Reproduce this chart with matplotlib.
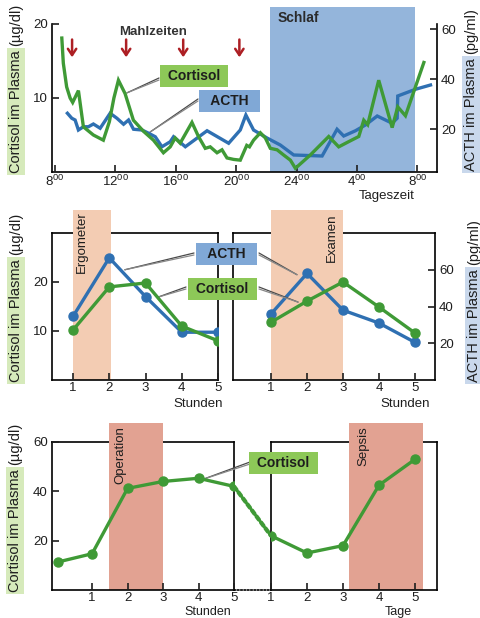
import matplotlib.pyplot as plt
import matplotlib.transforms as mtransforms
from matplotlib.patches import Rectangle, ConnectionPatch

plt.rcParams['font.family'] = ['Liberation Sans', 'DejaVu Sans']

W, H = 481, 618

# --- Tagesprofil (oben) ---
cort_h = [8.45, 8.55, 8.77, 9.0, 9.17, 9.55, 9.88, 10.54, 11.2, 11.6, 11.9, 12.2, 12.64,
          13.19, 13.86, 14.52, 15.18, 15.63, 15.96, 16.29, 17.07, 17.5, 17.95, 18.28,
          18.73, 19.06, 19.39, 19.83, 20.27, 20.7, 20.88, 21.15, 21.6, 21.93, 22.26,
          22.71, 23.14, 23.59, 23.92, 24.91, 26.13, 26.79, 27.45, 28.12, 28.45, 28.71,
          29.44, 30.33, 30.7, 31.21, 32.43]
cort_val = [18.1, 14.7, 11.5, 10.0, 9.4, 11.0, 6.1, 5.0, 4.3, 6.8, 10.0, 12.4, 10.6,
            7.0, 5.5, 4.3, 2.6, 3.4, 4.6, 3.9, 6.7, 4.8, 3.2, 3.4,
            2.6, 3.0, 1.9, 1.7, 1.6, 3.6, 3.4, 4.3, 5.3, 4.6, 3.2,
            3.0, 2.3, 1.6, 0.5, 2.3, 4.8, 3.4, 4.1, 4.8, 7.0, 6.4,
            12.4, 6.0, 8.8, 7.6, 14.8]

acth_h = [8.82, 9.11, 9.33, 9.55, 9.88, 10.21, 10.54, 10.99, 11.65, 12.1, 12.54, 12.87,
          13.2, 13.76, 14.2, 14.64, 15.08, 15.63, 15.85, 16.63, 18.07, 19.5, 20.27, 20.64,
          21.15, 22.04, 22.92, 23.81, 25.69, 26.68, 27.12, 27.9, 28.56, 29.34, 30.33,
          30.66, 30.7, 31.88, 32.87]
acth_val = [26.3, 24.3, 23.6, 19.6, 20.9, 20.9, 22.0, 20.3, 26.3, 24.3, 21.9, 23.6,
            19.9, 19.6, 18.3, 16.9, 12.9, 14.9, 16.9, 12.9, 19.3, 14.3, 19.6, 25.6,
            19.6, 16.4, 13.6, 9.6, 9.2, 19.9, 17.2, 19.3, 21.6, 25.2, 22.3,
            24.3, 33.2, 35.9, 37.6]

meal_h = [9.13, 12.71, 16.49, 20.21]
sleep_span = (22.26, 31.81)
day_ticks = [8, 12, 16, 20, 24, 28, 32]
day_labels = ['8', '12', '16', '20', '24', '4', '8']

# --- Ergometer / Examen (Mitte) ---
stunden = [1, 2, 3, 4, 5]
ergo_acth = [34.6, 66.5, 45.4, 26.0, 26.0]
ergo_cort = [10.2, 19.0, 19.8, 11.0, 8.0]
exam_acth = [36.0, 58.0, 38.0, 31.0, 20.5]
exam_cort = [11.8, 16.1, 20.0, 14.9, 9.6]
ergo_span = (1.0, 2.05)
exam_span = (1.0, 3.0)

# --- Operation / Sepsis (unten) ---
op_h = [0.05, 1, 2, 3, 4, 5]
op_cort = [11.4, 14.7, 41.2, 44.0, 45.3, 42.0]
sep_d = [1, 2, 3, 4, 5]
sep_cort = [22.0, 15.0, 18.0, 42.5, 53.0]
op_span = (1.48, 3.0)
sep_span = (3.17, 5.22)

GREEN = '#3f9a36'
BLUE = '#2f70b2'
RED = '#ad1f24'
SLEEP = '#94b5db'
PEACH = '#f3ccb3'
SALMON = '#e2a292'
GBOX = '#8dc858'
BBOX = '#80a8d6'
GHL = '#d6eabb'
BHL = '#c9d8ec'
TXT = '#1e1e1e'


def px(x, y):
    return x / W, 1 - y / H


def box(x0, y0, x1, y1):
    return [x0 / W, 1 - y1 / H, (x1 - x0) / W, (y1 - y0) / H]


def ticks(ax):
    ax.tick_params(direction='in', length=5, width=1.2, labelsize=9.5, pad=1.5, colors=TXT)
    ax.tick_params(axis='y', pad=3)


def style(ax, top=True):
    for s in ['left', 'right', 'bottom', 'top']:
        ax.spines[s].set_linewidth(1.2)
    ax.spines['top'].set_visible(top)
    ax.spines['bottom'].set_zorder(3)
    ax.xaxis.set_zorder(3)
    ax.yaxis.set_zorder(3)
    ticks(ax)


def hide(ax):
    for s in ax.spines.values():
        s.set_visible(False)
    ticks(ax)


def shade(ax, span, top, color):
    tr = mtransforms.blended_transform_factory(ax.transData, ax.transAxes)
    ax.add_patch(Rectangle((span[0], 0), span[1] - span[0], top, transform=tr,
                           facecolor=color, edgecolor='none', zorder=2.6, clip_on=False))


def callout(text, cx, cy, color, leaders):
    fig.text(*px(cx, cy), text, ha='center', va='center', fontsize=10, fontweight='bold',
             color=TXT, zorder=10,
             bbox=dict(boxstyle='square,pad=0.3', fc=color, ec='none'))
    for ax, xy, (sx, sy) in leaders:
        for dy in (0, 2):
            ax.annotate('', xy=xy, xycoords='data', xytext=px(sx, sy + dy),
                        textcoords='figure fraction', annotation_clip=False,
                        arrowprops=dict(arrowstyle='-', color='#4a4a4a' if dy == 0 else '#888888',
                                        lw=0.9, shrinkA=0, shrinkB=0))


def vlabel(ax, x, yb, main, rest, hl):
    t = fig.text(*px(x, yb), main, rotation=90, ha='center', va='bottom', fontsize=10.5,
                 color=TXT, bbox=dict(boxstyle='square,pad=0.15', fc=hl, ec='none'))
    ax.annotate(rest, xy=(0.5, 1.0), xycoords=t, xytext=(0, 3), textcoords='offset points',
                rotation=90, ha='center', va='bottom', fontsize=10.5, color=TXT,
                annotation_clip=False)


fig = plt.figure(figsize=(W / 100, H / 100), dpi=100)

# ================= top panel =================
ax1 = fig.add_axes(box(52, 24, 437, 172))
ax1c = ax1.twinx()
style(ax1, top=False)
hide(ax1c)
ax1.set_xlim(7.8, 33.3)
ax1.set_ylim(2.8, 62)
ax1c.set_ylim(0, 20)
ax1.yaxis.tick_right()
ax1c.yaxis.tick_left()
ax1.set_yticks([20, 40, 60])
ax1c.set_yticks([10, 20])
ax1.set_xticks(day_ticks)
ax1.set_xticklabels([r'$\mathregular{' + l + '^{00}}$' for l in day_labels])
shade(ax1, sleep_span, 1.115, SLEEP)
ax1.plot(acth_h, acth_val, color=BLUE, lw=2.4, zorder=4, solid_joinstyle='miter')
ax1c.plot(cort_h, cort_val, color=GREEN, lw=2.4, zorder=4, solid_joinstyle='miter')
for h in meal_h:
    ax1c.annotate('', xy=(h, 15.5), xytext=(h, 17.9),
                  arrowprops=dict(arrowstyle='->,head_length=0.45,head_width=0.3',
                                  color=RED, lw=1.8, shrinkA=0, shrinkB=0))
fig.text(*px(153, 32), 'Mahlzeiten', ha='center', va='center', fontsize=9.5,
         fontweight='bold', color='#333333')
fig.text(*px(278, 18), 'Schlaf', ha='left', va='center', fontsize=10,
         fontweight='bold', color='#2a2a2a')
fig.text(*px(387, 196), 'Tageszeit', ha='center', va='center', fontsize=9.5, color=TXT)
callout(' Cortisol ', 194, 76, GBOX, [(ax1c, (12.77, 10.7), (159, 78))])
callout('  ACTH  ', 229.5, 101, BBOX, [(ax1, (14.3, 18.8), (198, 99))])
vlabel(ax1, 16, 173, 'Cortisol im Plasma', '(µg/dl)', GHL)
vlabel(ax1, 471, 171, 'ACTH im Plasma', '(pg/ml)', BHL)

# ================= middle panels =================
axL = fig.add_axes(box(52, 233, 218, 380))
axLc = axL.twinx()
axR = fig.add_axes(box(233, 233, 435, 380))
axRc = axR.twinx()
for host, twin in [(axL, axLc), (axR, axRc)]:
    style(host)
    hide(twin)
    host.set_ylim(0, 80)
    twin.set_ylim(0, 30)
    host.set_xticks(stunden)
    host.set_xticklabels([str(s) for s in stunden])
axL.set_xlim(0.42, 5.0)
axR.set_xlim(-0.06, 5.56)
axL.set_yticks([])
axLc.yaxis.tick_left()
axLc.set_yticks([10, 20])
axR.yaxis.tick_right()
axR.set_yticks([20, 40, 60])
axRc.set_yticks([])
shade(axL, ergo_span, 1.156, PEACH)
shade(axR, exam_span, 1.156, PEACH)
mk = dict(marker='o', markersize=6.5, lw=2.4, zorder=4)
axL.plot(stunden, ergo_acth, color=BLUE, **mk)
axLc.plot(stunden, ergo_cort, color=GREEN, **mk)
axR.plot(stunden, exam_acth, color=BLUE, **mk)
axRc.plot(stunden, exam_cort, color=GREEN, **mk)
fig.text(*px(82, 211), 'Ergometer', rotation=90, ha='center', va='top', fontsize=9.5, color=TXT)
fig.text(*px(332, 213), 'Examen', rotation=90, ha='center', va='top', fontsize=9.5, color=TXT)
fig.text(*px(198, 404), 'Stunden', ha='center', va='center', fontsize=9.5, color=TXT)
fig.text(*px(405, 404), 'Stunden', ha='center', va='center', fontsize=9.5, color=TXT)
callout('  ACTH  ', 226.5, 254, BBOX,
        [(axL, (2.43, 60.0), (194, 253)), (axR, (1.72, 57.3), (259, 253))])
callout(' Cortisol ', 222.5, 289, GBOX,
        [(axLc, (3.34, 16.9), (186, 287)), (axRc, (1.75, 15.9), (259, 287))])
vlabel(axL, 16, 382, 'Cortisol im Plasma', '(µg/dl)', GHL)
vlabel(axL, 474, 382, 'ACTH im Plasma', '(pg/ml)', BHL)

# ================= bottom panels =================
axB1 = fig.add_axes(box(52, 442, 234, 590))
axB2 = fig.add_axes(box(271, 442, 437, 590))
for ax in (axB1, axB2):
    style(ax)
    ax.set_ylim(0, 60)
    ax.set_xticks([1, 2, 3, 4, 5])
    ax.set_xticklabels(['1', '2', '3', '4', '5'])
axB1.set_xlim(-0.13, 5.0)
axB2.set_xlim(1.0, 5.61)
axB1.set_yticks([20, 40, 60])
axB2.set_yticks([])
shade(axB1, op_span, 1.128, SALMON)
shade(axB2, sep_span, 1.128, SALMON)
axB1.plot(op_h, op_cort, color=GREEN, **mk)
axB2.plot(sep_d, sep_cort, color=GREEN, **mk)
fig.add_artist(ConnectionPatch(xyA=(op_h[-1], op_cort[-1]), coordsA=axB1.transData,
                               xyB=(sep_d[0], sep_cort[0]), coordsB=axB2.transData,
                               color=GREEN, lw=3, linestyle=(0, (1, 0.8)), zorder=5))
fig.add_artist(ConnectionPatch(xyA=(5.0, 0), coordsA=axB1.transData,
                               xyB=(1.0, 0), coordsB=axB2.transData,
                               color='k', lw=1.2, linestyle=(0, (1, 1)), zorder=5))
fig.text(*px(120, 426), 'Operation', rotation=90, ha='center', va='top', fontsize=9.5, color=TXT)
fig.text(*px(363, 426), 'Sepsis', rotation=90, ha='center', va='top', fontsize=9.5, color=TXT)
fig.text(*px(208, 612), 'Stunden', ha='center', va='center', fontsize=9, color=TXT)
fig.text(*px(398, 612), 'Tage', ha='center', va='center', fontsize=9, color=TXT)
callout(' Cortisol ', 283.5, 463, GBOX, [(axB1, (4.13, 44.9), (250, 462))])
vlabel(axB1, 15, 592, 'Cortisol im Plasma', '(µg/dl)', GHL)

fig.savefig('out.png', dpi=100)
